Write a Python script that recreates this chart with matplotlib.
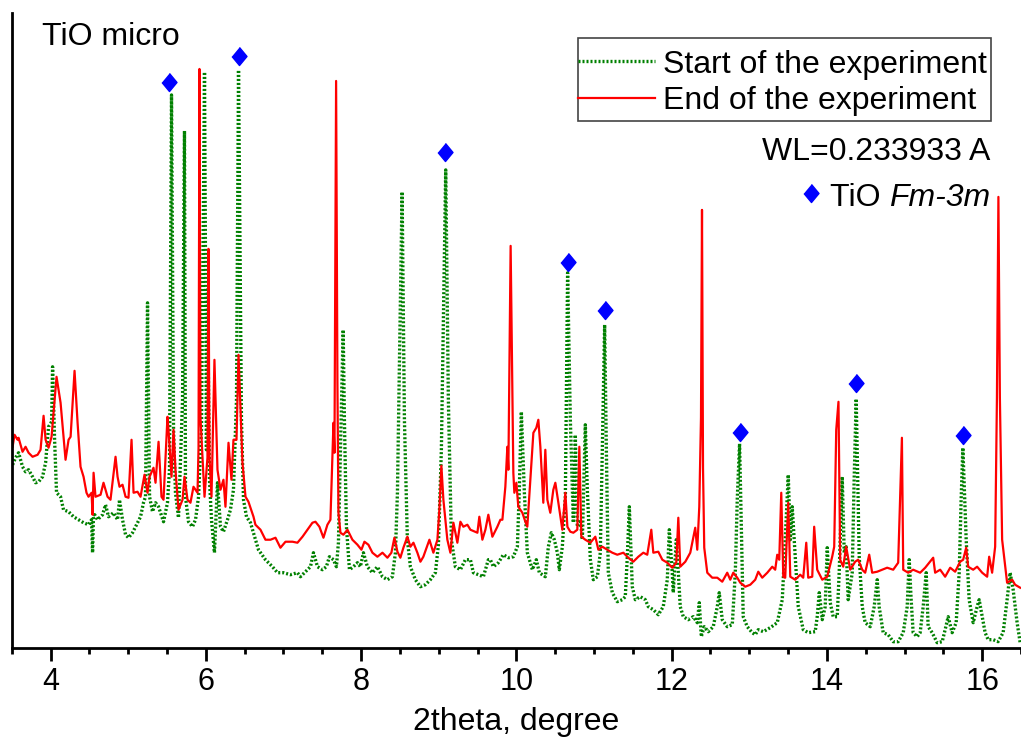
import matplotlib
matplotlib.use("Agg")
import matplotlib.pyplot as plt
from matplotlib.patches import Rectangle
from matplotlib.ticker import MultipleLocator, NullLocator

plt.rcParams["font.family"] = ["Liberation Sans", "DejaVu Sans"]

# XRD patterns: (2theta in degree, intensity in a.u.)
start_pattern = [
    (3.511, 183), (3.549, 190), (3.588, 195), (3.639, 181), (3.678, 176), (3.717, 178),
    (3.768, 171), (3.807, 165), (3.846, 166), (3.897, 171), (3.936, 185), (3.974, 221),
    (4.013, 226), (4.026, 281), (4.052, 208), (4.077, 155), (4.129, 151), (4.167, 138),
    (4.232, 136), (4.296, 131), (4.361, 128), (4.425, 125), (4.489, 123), (4.528, 128),
    (4.541, 95), (4.554, 135), (4.605, 128), (4.670, 133), (4.708, 143), (4.747, 131),
    (4.811, 135), (4.863, 128), (4.888, 148), (4.927, 128), (4.966, 113), (5.004, 110),
    (5.056, 115), (5.120, 125), (5.159, 131), (5.197, 145), (5.223, 151), (5.249, 345),
    (5.275, 151), (5.313, 136), (5.352, 145), (5.391, 141), (5.455, 126), (5.506, 145),
    (5.532, 178), (5.558, 553), (5.584, 218), (5.609, 155), (5.648, 130), (5.700, 248),
    (5.725, 517), (5.738, 151), (5.777, 126), (5.828, 121), (5.867, 128), (5.906, 151),
    (5.944, 218), (5.983, 576), (6.008, 198), (6.021, 358), (6.047, 168), (6.073, 128),
    (6.111, 95), (6.150, 165), (6.189, 121), (6.227, 116), (6.279, 128), (6.317, 138),
    (6.356, 158), (6.395, 248), (6.421, 578), (6.459, 228), (6.485, 148), (6.524, 131),
    (6.575, 125), (6.639, 108), (6.678, 98), (6.768, 88), (6.858, 81), (6.923, 75),
    (7.000, 75), (7.090, 73), (7.180, 75), (7.219, 71), (7.283, 76), (7.348, 81),
    (7.386, 95), (7.438, 81), (7.502, 78), (7.553, 81), (7.592, 91), (7.644, 88),
    (7.682, 81), (7.708, 105), (7.734, 198), (7.769, 318), (7.785, 228), (7.811, 121),
    (7.850, 78), (7.901, 81), (7.953, 85), (7.991, 81), (8.030, 95), (8.081, 81),
    (8.146, 75), (8.210, 81), (8.275, 71), (8.339, 68), (8.403, 71), (8.442, 95),
    (8.468, 155), (8.528, 456), (8.558, 228), (8.596, 108), (8.635, 81), (8.699, 68),
    (8.764, 61), (8.828, 63), (8.892, 68), (8.957, 75), (8.996, 103), (9.034, 198),
    (9.090, 478), (9.124, 248), (9.163, 108), (9.214, 81), (9.279, 78), (9.343, 88),
    (9.408, 88), (9.446, 75), (9.511, 73), (9.575, 71), (9.639, 88), (9.665, 88),
    (9.704, 81), (9.768, 85), (9.832, 93), (9.897, 90), (9.961, 91), (10.013, 101),
    (10.038, 158), (10.064, 236), (10.103, 155), (10.141, 95), (10.206, 78), (10.257, 88),
    (10.296, 75), (10.373, 71), (10.412, 101), (10.450, 115), (10.489, 108), (10.528, 95),
    (10.553, 78), (10.592, 101), (10.631, 151), (10.660, 375), (10.695, 228), (10.734, 125),
    (10.759, 213), (10.785, 121), (10.824, 128), (10.850, 108), (10.888, 223), (10.914, 158),
    (10.953, 88), (10.991, 68), (11.043, 71), (11.081, 95), (11.107, 198), (11.137, 323),
    (11.159, 198), (11.184, 75), (11.236, 55), (11.300, 46), (11.365, 48), (11.403, 51),
    (11.429, 91), (11.455, 141), (11.493, 61), (11.532, 48), (11.596, 51), (11.661, 48),
    (11.699, 41), (11.764, 38), (11.828, 33), (11.892, 41), (11.944, 68), (11.970, 118),
    (12.008, 75), (12.021, 55), (12.060, 108), (12.086, 75), (12.111, 41), (12.150, 31),
    (12.214, 28), (12.279, 31), (12.330, 25), (12.356, 45), (12.382, 11), (12.420, 21),
    (12.472, 16), (12.536, 21), (12.588, 41), (12.613, 55), (12.652, 28), (12.716, 21),
    (12.781, 23), (12.820, 75), (12.845, 148), (12.875, 204), (12.910, 75), (12.922, 31),
    (12.974, 21), (13.038, 15), (13.077, 13), (13.116, 18), (13.180, 16), (13.270, 20),
    (13.360, 25), (13.425, 48), (13.463, 108), (13.502, 173), (13.528, 108), (13.553, 141),
    (13.592, 91), (13.631, 41), (13.695, 18), (13.759, 15), (13.849, 16), (13.875, 31),
    (13.901, 55), (13.940, 28), (13.978, 41), (14.004, 100), (14.043, 45), (14.081, 31),
    (14.133, 31), (14.158, 75), (14.197, 171), (14.223, 95), (14.248, 101), (14.274, 48),
    (14.326, 75), (14.351, 168), (14.377, 249), (14.416, 91), (14.455, 41), (14.493, 25),
    (14.558, 21), (14.609, 41), (14.648, 68), (14.673, 41), (14.725, 15), (14.789, 13),
    (14.854, 6), (14.918, 6), (14.983, 15), (15.034, 41), (15.060, 88), (15.085, 48),
    (15.111, 15), (15.163, 11), (15.201, 15), (15.240, 41), (15.279, 75), (15.304, 21),
    (15.356, 15), (15.420, 5), (15.485, 6), (15.523, 18), (15.562, 31), (15.613, 15),
    (15.665, 25), (15.704, 75), (15.729, 148), (15.751, 200), (15.794, 108), (15.832, 48),
    (15.884, 25), (15.935, 41), (15.961, 48), (16.000, 31), (16.038, 15), (16.077, 8),
    (16.141, 8), (16.205, 6), (16.270, 15), (16.321, 48), (16.360, 75), (16.399, 58),
    (16.450, 25), (16.489, 5),
]

end_pattern = [
    (3.511, 201), (3.536, 213), (3.575, 208), (3.588, 210), (3.639, 196), (3.678, 201),
    (3.717, 195), (3.768, 191), (3.833, 193), (3.871, 198), (3.910, 232), (3.936, 208),
    (3.974, 200), (4.013, 211), (4.077, 271), (4.129, 245), (4.193, 188), (4.232, 208),
    (4.258, 211), (4.309, 277), (4.348, 225), (4.386, 181), (4.425, 171), (4.463, 155),
    (4.489, 151), (4.528, 155), (4.541, 133), (4.554, 175), (4.579, 151), (4.644, 153),
    (4.682, 165), (4.734, 151), (4.772, 148), (4.837, 191), (4.863, 171), (4.888, 161),
    (4.927, 163), (4.966, 151), (5.004, 150), (5.043, 208), (5.069, 155), (5.120, 156),
    (5.159, 151), (5.210, 173), (5.249, 155), (5.275, 171), (5.326, 180), (5.352, 165),
    (5.391, 206), (5.429, 151), (5.455, 148), (5.506, 231), (5.519, 218), (5.558, 171),
    (5.584, 218), (5.609, 178), (5.648, 138), (5.700, 148), (5.725, 171), (5.764, 148),
    (5.802, 145), (5.841, 161), (5.893, 155), (5.906, 200), (5.918, 579), (5.931, 230),
    (5.983, 151), (6.021, 190), (6.034, 399), (6.047, 190), (6.073, 151), (6.111, 288),
    (6.150, 178), (6.189, 158), (6.227, 168), (6.253, 141), (6.292, 205), (6.330, 168),
    (6.356, 208), (6.395, 208), (6.421, 293), (6.472, 185), (6.511, 151), (6.549, 146),
    (6.614, 131), (6.639, 123), (6.704, 118), (6.768, 108), (6.833, 108), (6.897, 110),
    (6.961, 100), (7.026, 106), (7.116, 106), (7.180, 105), (7.245, 111), (7.309, 118),
    (7.373, 125), (7.412, 126), (7.463, 121), (7.515, 110), (7.566, 123), (7.605, 128),
    (7.644, 225), (7.657, 195), (7.678, 567), (7.695, 265), (7.708, 135), (7.734, 115),
    (7.772, 113), (7.824, 118), (7.888, 108), (7.953, 103), (8.004, 98), (8.043, 106),
    (8.094, 103), (8.146, 95), (8.210, 91), (8.275, 95), (8.339, 90), (8.390, 95),
    (8.429, 110), (8.468, 96), (8.506, 90), (8.545, 100), (8.596, 111), (8.635, 101),
    (8.674, 105), (8.725, 95), (8.764, 86), (8.802, 91), (8.880, 108), (8.931, 95),
    (8.983, 108), (9.008, 138), (9.034, 182), (9.060, 148), (9.111, 108), (9.150, 95),
    (9.189, 125), (9.240, 105), (9.279, 126), (9.317, 121), (9.369, 123), (9.408, 118),
    (9.498, 115), (9.523, 131), (9.562, 108), (9.601, 118), (9.639, 133), (9.691, 111),
    (9.755, 121), (9.794, 128), (9.820, 128), (9.858, 161), (9.884, 201), (9.897, 178),
    (9.926, 402), (9.961, 175), (9.974, 155), (10.000, 165), (10.025, 141), (10.077, 135),
    (10.116, 126), (10.141, 121), (10.180, 168), (10.219, 215), (10.257, 220), (10.283, 228),
    (10.309, 201), (10.347, 145), (10.373, 198), (10.399, 148), (10.437, 135), (10.476, 158),
    (10.502, 165), (10.541, 145), (10.592, 118), (10.631, 155), (10.657, 121), (10.695, 116),
    (10.734, 115), (10.785, 118), (10.811, 201), (10.837, 111), (10.888, 108), (10.953, 105),
    (11.017, 111), (11.056, 98), (11.107, 101), (11.171, 98), (11.236, 95), (11.300, 93),
    (11.378, 95), (11.442, 90), (11.506, 86), (11.571, 91), (11.635, 95), (11.686, 93),
    (11.738, 118), (11.764, 95), (11.828, 96), (11.880, 88), (11.944, 85), (12.008, 80),
    (12.060, 85), (12.086, 130), (12.111, 81), (12.176, 86), (12.240, 95), (12.304, 120),
    (12.330, 98), (12.356, 141), (12.378, 230), (12.391, 438), (12.404, 180), (12.420, 100),
    (12.459, 75), (12.523, 70), (12.588, 70), (12.652, 66), (12.716, 75), (12.755, 68),
    (12.794, 75), (12.845, 70), (12.884, 65), (12.948, 61), (13.013, 63), (13.077, 68),
    (13.116, 76), (13.167, 70), (13.232, 75), (13.296, 81), (13.334, 78), (13.360, 93),
    (13.386, 88), (13.412, 155), (13.438, 71), (13.463, 70), (13.502, 145), (13.528, 71),
    (13.592, 68), (13.656, 73), (13.695, 70), (13.734, 105), (13.759, 70), (13.811, 71),
    (13.836, 121), (13.875, 78), (13.940, 68), (14.004, 71), (14.068, 91), (14.094, 101),
    (14.120, 218), (14.149, 246), (14.171, 88), (14.210, 81), (14.248, 101), (14.300, 78),
    (14.364, 86), (14.403, 88), (14.455, 78), (14.493, 75), (14.545, 93), (14.583, 75),
    (14.648, 76), (14.712, 78), (14.776, 80), (14.854, 78), (14.918, 85), (14.966, 210),
    (14.983, 78), (15.047, 75), (15.111, 78), (15.201, 75), (15.266, 80), (15.317, 85),
    (15.369, 90), (15.394, 75), (15.459, 78), (15.523, 71), (15.588, 80), (15.652, 76),
    (15.716, 86), (15.755, 88), (15.794, 100), (15.819, 81), (15.884, 78), (15.935, 81),
    (16.000, 75), (16.064, 71), (16.090, 91), (16.128, 75), (16.167, 101), (16.190, 250),
    (16.209, 451), (16.228, 250), (16.257, 108), (16.321, 65), (16.386, 68), (16.424, 63),
    (16.489, 60),
]

# TiO Fm-3m reflections and the height of their markers
tio_2theta = [5.532, 6.421, 9.077, 10.660, 11.137, 12.875, 14.377, 15.751]
tio_mark = [566, 592, 496, 386, 338, 216, 265, 213]

FS = 23
diamond = [(0, 1), (0.83, 0), (0, -1), (-0.83, 0)]

fig = plt.figure(figsize=(10.21, 7.38), dpi=100)
ax = fig.add_axes([0.0115, 0.1224, 0.9885, 0.8600])

x1, y1 = zip(*start_pattern)
x2, y2 = zip(*end_pattern)
ax.plot(x1, y1, color="#008000", lw=2.4, linestyle=(0, (0.6, 0.6)),
        label="Start of the experiment")
ax.plot(x2, y2, color="#ff0000", lw=1.6, label="End of the experiment")
ax.plot(tio_2theta, tio_mark, linestyle="none", marker=diamond, ms=13,
        color="#0000ff", mec="#0000ff")

ax.set_xlim(3.5, 16.5)
ax.set_ylim(0, 635)
ax.xaxis.set_major_locator(MultipleLocator(2))
ax.xaxis.set_minor_locator(MultipleLocator(0.5))
ax.yaxis.set_major_locator(NullLocator())
ax.tick_params(axis="x", which="major", length=9, width=2, labelsize=22, pad=5)
ax.tick_params(axis="x", which="minor", length=4, width=2)
for side in ("top", "right"):
    ax.spines[side].set_visible(False)
for side in ("left", "bottom"):
    ax.spines[side].set_linewidth(2)
ax.set_xlabel("2theta, degree", fontsize=FS, labelpad=7)

# legend without its own frame; the box is drawn separately
ax.add_patch(Rectangle((0.5614, 0.8299), 0.4089, 0.1307, transform=ax.transAxes,
                       facecolor="white", edgecolor="#444444", lw=1.2, zorder=4))
leg = ax.legend(loc="upper left", bbox_to_anchor=(0.5614, 0.9423), borderaxespad=0,
                fontsize=FS, handlelength=2.4, handletextpad=0.25, borderpad=0,
                labelspacing=0.21, frameon=False)
leg.set_zorder(5)

ax.text(0.0297, 0.9496, "TiO micro", transform=ax.transAxes, fontsize=FS,
        ha="left", va="baseline")
ax.text(0.9693, 0.7684, "WL=0.233933 A", transform=ax.transAxes, fontsize=FS,
        ha="right", va="baseline")
sg = ax.text(0.9693, 0.6959, "Fm-3m", transform=ax.transAxes, fontsize=FS,
             style="italic", ha="right", va="baseline")
ax.annotate("TiO ", xy=(0, 0), xycoords=sg, fontsize=FS, ha="right", va="bottom")
ax.plot([0.7919], [0.7159], transform=ax.transAxes, linestyle="none",
        marker=diamond, ms=13, color="#0000ff")

fig.savefig("out.png", dpi=100)
